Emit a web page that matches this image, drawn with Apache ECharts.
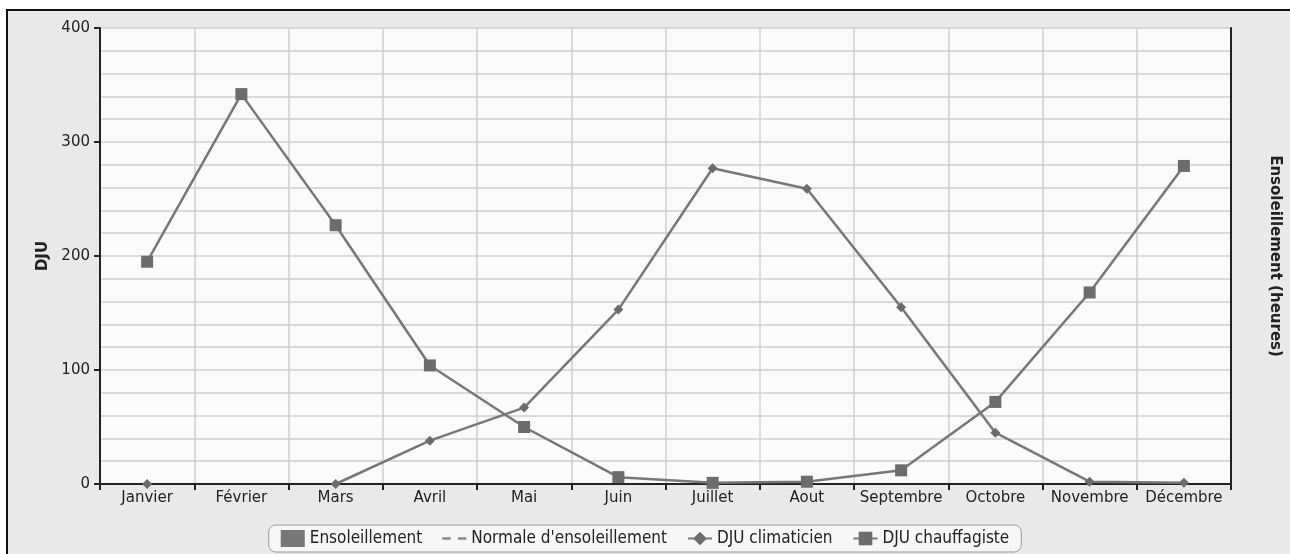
<!DOCTYPE html>
<html>
<head>
<meta charset="utf-8">
<script src="https://cdn.jsdelivr.net/npm/echarts@6/dist/echarts.min.js"></script>
<style>
  html, body { margin: 0; padding: 0; background: #fff; }
  #frame {
    position: absolute; left: 6px; top: 9px; width: 1290px; height: 560px;
    border-top: 2px solid #111; border-left: 2px solid #111;
    background: #e9e9e9;
  }
  #main { position: absolute; left: 0; top: 0; width: 1290px; height: 554px; }
</style>
</head>
<body>
<div id="frame"></div>
<div id="main"></div>
<script>
// mois
const mois = ['Janvier', 'Février', 'Mars', 'Avril', 'Mai', 'Juin', 'Juillet', 'Aout', 'Septembre', 'Octobre', 'Novembre', 'Décembre']
// séries
const ensoleillement = []
const normaleEnsoleillement = []
const djuClimaticien = [0, null, 0, 38, 67, 153, 277, 259, 155, 45, 2, 1]
const djuChauffagiste = [195, 342, 227, 104, 50, 6, 1, 2, 12, 72, 168, 279]

const gris = '#777'
const grille = '#cfcfcf'

const chart = echarts.init(document.getElementById('main'))
chart.setOption({
  animation: false,
  textStyle: { fontFamily: 'DejaVu Sans' },
  grid: {
    left: 100, right: 58, top: 28, bottom: 70,
    show: true, backgroundColor: '#fbfbfb', borderWidth: 0
  },
  legend: {
    left: 'center',
    bottom: 2,
    backgroundColor: '#f7f7f7',
    borderColor: '#9a9a9a',
    borderWidth: 1,
    borderRadius: 7,
    padding: [5, 12],
    itemGap: 20,
    itemWidth: 24,
    itemHeight: 17,
    textStyle: { fontFamily: 'DejaVu Sans Condensed', fontSize: 17, color: '#222' },
    data: [
      { name: 'Ensoleillement', icon: 'rect' },
      { name: "Normale d'ensoleillement", icon: 'path://M0,7 L7,7 L7,9 L0,9 Z M13,7 L20,7 L20,9 L13,9 Z' },
      { name: 'DJU climaticien' },
      { name: 'DJU chauffagiste' }
    ]
  },
  xAxis: {
    type: 'category',
    data: mois,
    boundaryGap: true,
    axisLine: { lineStyle: { color: '#222', width: 2 } },
    axisTick: { show: true, length: 6, lineStyle: { color: '#222', width: 2 } },
    axisLabel: { color: '#222', fontSize: 15, margin: 7, interval: 0 },
    splitLine: { show: true, interval: 0, lineStyle: { color: grille, width: 1.5 } }
  },
  yAxis: [
    {
      type: 'value',
      min: 0, max: 400, interval: 100,
      name: 'DJU',
      nameLocation: 'middle',
      nameGap: 47,
      nameTextStyle: { fontSize: 15, fontWeight: 'bold', color: '#222' },
      axisLine: { show: true, lineStyle: { color: '#222', width: 2 } },
      axisTick: { show: true, length: 6, lineStyle: { color: '#222', width: 2 } },
      axisLabel: { color: '#222', fontSize: 15, margin: 10 },
      splitLine: { show: true, lineStyle: { color: grille, width: 1.5 } },
      minorTick: { show: false, splitNumber: 5 },
      minorSplitLine: { show: true, lineStyle: { color: grille, width: 1.5 } }
    },
    {
      type: 'value',
      position: 'right',
      min: 0, max: 400,
      name: 'Ensoleillement (heures)',
      nameLocation: 'middle',
      nameGap: 36,
      nameRotate: -90,
      nameTextStyle: { fontSize: 15, fontWeight: 'bold', color: '#222' },
      axisLine: { show: true, lineStyle: { color: '#222', width: 2 } },
      axisTick: { show: false },
      axisLabel: { show: false },
      splitLine: { show: false }
    }
  ],
  series: [
    {
      name: 'Ensoleillement',
      type: 'bar',
      yAxisIndex: 1,
      itemStyle: { color: gris },
      data: ensoleillement
    },
    {
      name: "Normale d'ensoleillement",
      type: 'line',
      yAxisIndex: 1,
      symbol: 'none',
      itemStyle: { color: '#888' },
      lineStyle: { color: '#888', type: 'dashed', width: 2 },
      data: normaleEnsoleillement
    },
    {
      name: 'DJU climaticien',
      type: 'line',
      symbol: 'diamond',
      symbolSize: 10,
      connectNulls: false,
      itemStyle: { color: '#6c6c6c' },
      lineStyle: { color: gris, width: 2.5 },
      data: djuClimaticien
    },
    {
      name: 'DJU chauffagiste',
      type: 'line',
      symbol: 'rect',
      symbolSize: 12,
      itemStyle: { color: '#6c6c6c' },
      lineStyle: { color: gris, width: 2.5 },
      data: djuChauffagiste
    }
  ]
})
</script>
</body>
</html>
